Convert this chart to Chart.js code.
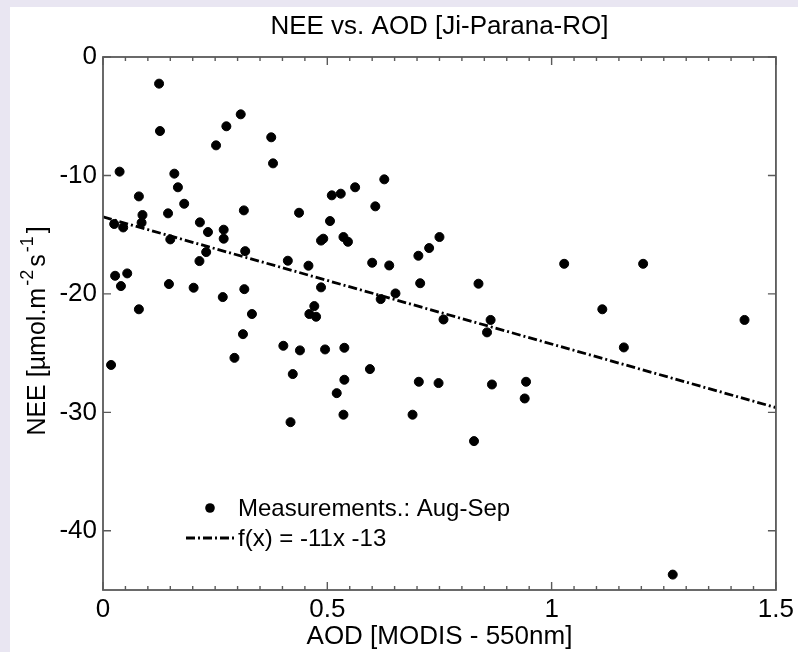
<!DOCTYPE html>
<html>
<head>
<meta charset="utf-8">
<title>NEE vs. AOD</title>
<script src="https://cdn.jsdelivr.net/npm/chart.js@4.4.1/dist/chart.umd.min.js"></script>
<style>
    html, body { margin: 0; padding: 0; background: #e9e6f2; }
    #wrap { width: 798px; height: 652px; }
</style>
</head>
<body>
<div id="wrap"><canvas id="neeChart" width="798" height="652"></canvas></div>
<script>
var aod = [
    0.125, 0.127, 0.307, 0.275, 0.252, 0.375, 0.379, 0.037, 0.159, 0.167,
    0.080, 0.181, 0.088, 0.086, 0.025, 0.045, 0.145, 0.150, 0.216, 0.234,
    0.269, 0.269, 0.314, 0.317, 0.230, 0.215, 0.437, 0.412, 0.458, 0.506,
    0.510, 0.530, 0.562, 0.627, 0.607, 0.486, 0.491, 0.536, 0.546, 0.600,
    0.638, 0.703, 0.727, 0.750, 0.027, 0.054, 0.040, 0.147, 0.202, 0.315,
    0.267, 0.080, 0.332, 0.486, 0.471, 0.460, 0.475, 0.619, 0.652, 0.707,
    0.759, 0.018, 0.312, 0.293, 0.402, 0.439, 0.495, 0.538, 0.423, 0.538,
    0.595, 0.521, 0.418, 0.536, 0.704, 0.748, 0.690, 1.028, 1.204, 0.837,
    1.113, 1.430, 0.864, 0.856, 1.161, 0.867, 0.943, 0.940, 0.827, 1.270
];
var nee = [
    -2.25, -6.25, -4.84, -5.85, -7.46, -6.78, -8.98, -9.68, -9.85, -11.0,
    -11.77, -12.39, -13.34, -13.99, -14.1, -14.39, -13.2, -15.4, -13.96, -14.78,
    -14.58, -15.34, -12.95, -16.39, -16.47, -17.23, -13.15, -17.2, -17.62, -13.85,
    -11.68, -11.54, -11.0, -10.33, -12.61, -15.5, -15.34, -15.2, -15.6, -17.37,
    -17.6, -16.78, -16.13, -15.2, -18.47, -18.27, -19.34, -19.17, -19.48, -19.6,
    -20.27, -21.3, -21.7, -19.45, -21.03, -21.7, -21.93, -20.44, -19.96, -19.1,
    -22.16, -26.0, -23.4, -25.4, -24.38, -24.77, -24.69, -24.55, -26.77, -27.25,
    -26.35, -28.38, -30.83, -30.2, -27.42, -27.53, -30.2, -17.46, -17.46, -19.14,
    -21.3, -22.2, -22.2, -23.25, -24.52, -27.65, -27.42, -28.83, -32.43, -43.7
];
var fitX = [0, 1.5];
var fitY = [-13.5, -29.6];
var xTicks = [0, 0.5, 1, 1.5];
var yTicks = [0, -10, -20, -30, -40];

var chartTitle = "NEE vs. AOD [Ji-Parana-RO]";
var xLabel = "AOD [MODIS - 550nm]";
var legendPoints = "Measurements.: Aug-Sep";
var legendFit = "f(x) = -11x -13";
var fontName = "'Liberation Sans', Arial, Helvetica, sans-serif";

function toPoints(xs, ys) {
    var out = [];
    for (var i = 0; i < xs.length; i++) {
        out.push({ x: xs[i], y: ys[i] });
    }
    return out;
}

var backdropPlugin = {
    id: "backdrop",
    beforeDraw: function(chart) {
        var ctx = chart.ctx;
        ctx.save();
        ctx.fillStyle = "#e9e6f2";
        ctx.fillRect(0, 0, chart.width, chart.height);
        ctx.fillStyle = "#ffffff";
        ctx.fillRect(10, 7, chart.width - 10, chart.height - 7);
        ctx.restore();
    }
};

var framePlugin = {
    id: "frame",
    afterDatasetsDraw: function(chart) {
        var ctx = chart.ctx;
        var a = chart.chartArea;
        var xs = chart.scales.x;
        var ys = chart.scales.y;
        ctx.save();
        ctx.strokeStyle = "#5a5a5a";
        ctx.lineWidth = 1.8;
        ctx.strokeRect(a.left, a.top, a.right - a.left, a.bottom - a.top);

        ctx.lineWidth = 1.4;
        ctx.beginPath();
        for (var i = 0; i <= 30; i++) {
            var px = xs.getPixelForValue(i * 0.05);
            var len = (i % 10 === 0) ? 8 : 4;
            ctx.moveTo(px, a.bottom);
            ctx.lineTo(px, a.bottom - len);
            ctx.moveTo(px, a.top);
            ctx.lineTo(px, a.top + len);
        }
        for (var j = 0; j < yTicks.length; j++) {
            var py = ys.getPixelForValue(yTicks[j]);
            ctx.moveTo(a.left, py);
            ctx.lineTo(a.left + 8, py);
            ctx.moveTo(a.right, py);
            ctx.lineTo(a.right - 8, py);
        }
        ctx.stroke();
        ctx.restore();
    }
};

var textPlugin = {
    id: "texts",
    afterDraw: function(chart) {
        var ctx = chart.ctx;
        var a = chart.chartArea;
        ctx.save();
        ctx.fillStyle = "#000";
        ctx.textBaseline = "middle";

        // title
        ctx.font = "26px " + fontName;
        ctx.textAlign = "center";
        ctx.fillText(chartTitle, (a.left + a.right) / 2, 27);

        // y label with superscripts
        var parts = [
            { t: "NEE [\u00b5mol.m", sup: false },
            { t: "-2", sup: true },
            { t: "s", sup: false },
            { t: "-1", sup: true },
            { t: "]", sup: false }
        ];
        ctx.translate(38, 0);
        ctx.rotate(-Math.PI / 2);
        ctx.textAlign = "left";
        var total = 0;
        var k;
        for (k = 0; k < parts.length; k++) {
            ctx.font = (parts[k].sup ? "18px " : "25px ") + fontName;
            parts[k].w = ctx.measureText(parts[k].t).width + (parts[k].sup ? 5 : 0);
            total += parts[k].w;
        }
        var pos = -(331 + total / 2);
        for (k = 0; k < parts.length; k++) {
            ctx.font = (parts[k].sup ? "18px " : "25px ") + fontName;
            ctx.fillText(parts[k].t, pos + (parts[k].sup ? 2 : 0), parts[k].sup ? -10 : 0);
            pos += parts[k].w;
        }
        ctx.restore();

        // legend
        ctx.save();
        ctx.fillStyle = "#000";
        ctx.beginPath();
        ctx.arc(210, 508, 4.8, 0, Math.PI * 2);
        ctx.fill();
        ctx.strokeStyle = "#000";
        ctx.lineWidth = 2.8;
        ctx.setLineDash([9, 3, 2, 3]);
        ctx.beginPath();
        ctx.moveTo(186, 538);
        ctx.lineTo(236, 538);
        ctx.stroke();
        ctx.setLineDash([]);
        ctx.font = "24px " + fontName;
        ctx.textAlign = "left";
        ctx.textBaseline = "middle";
        ctx.fillText(legendPoints, 238, 509);
        ctx.fillText(legendFit, 238, 539);
        ctx.restore();
    }
};

var chart = new Chart(document.getElementById("neeChart").getContext("2d"), {
    type: "scatter",
    data: {
        datasets: [{
            label: legendPoints,
            data: toPoints(aod, nee),
            backgroundColor: "#000",
            borderColor: "#000",
            borderWidth: 1,
            pointRadius: 4.5,
            showLine: false
        }, {
            type: "line",
            label: legendFit,
            data: toPoints(fitX, fitY),
            borderColor: "#000",
            borderWidth: 2.8,
            borderDash: [9, 3, 2, 3],
            pointRadius: 0,
            fill: false,
            tension: 0
        }]
    },
    options: {
        responsive: false,
        animation: false,
        devicePixelRatio: 1,
        layout: { padding: { top: 57, right: 20, left: 0, bottom: 0 } },
        plugins: {
            legend: { display: false },
            title: { display: false },
            tooltip: { enabled: false }
        },
        scales: {
            x: {
                type: "linear",
                min: 0,
                max: 1.5,
                grid: { display: false, drawTicks: false },
                border: { display: false },
                afterBuildTicks: function(s) {
                    s.ticks = xTicks.map(function(v) { return { value: v }; });
                },
                afterFit: function(s) { s.height = 62; },
                ticks: {
                    color: "#000",
                    padding: 4,
                    maxRotation: 0,
                    font: { family: fontName, size: 26 },
                    callback: function(v) { return String(v); }
                },
                title: {
                    display: true,
                    text: xLabel,
                    color: "#000",
                    padding: 0,
                    font: { family: fontName, size: 26 }
                }
            },
            y: {
                type: "linear",
                min: -45,
                max: 0,
                grid: { display: false, drawTicks: false },
                border: { display: false },
                afterBuildTicks: function(s) {
                    s.ticks = yTicks.map(function(v) { return { value: v }; });
                },
                afterFit: function(s) { s.width = 103; },
                ticks: {
                    color: "#000",
                    padding: 6,
                    font: { family: fontName, size: 26 },
                    callback: function(v) { return String(v); }
                }
            }
        }
    },
    plugins: [backdropPlugin, framePlugin, textPlugin]
});
</script>
</body>
</html>
